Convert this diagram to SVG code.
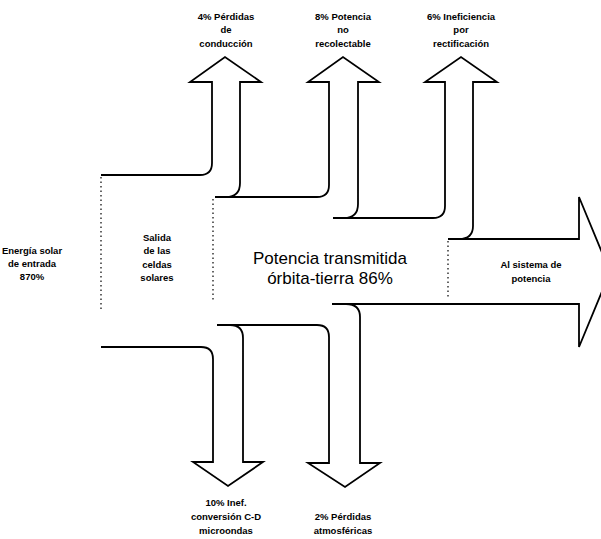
<svg xmlns="http://www.w3.org/2000/svg" width="601" height="539" viewBox="0 0 601 539">
<style>
.flow{fill:none;stroke:#000;stroke-width:1.8;stroke-linejoin:miter;stroke-linecap:butt}
.sep{fill:none;stroke:#000;stroke-width:1.2;stroke-dasharray:1.5 3}
.s{font-family:"Liberation Sans",Arial,sans-serif;font-size:9.5px;font-weight:bold;text-anchor:middle;fill:#000}
.b{font-family:"Liberation Sans",Arial,sans-serif;font-size:17px;text-anchor:middle;fill:#000}
</style>
<rect width="601" height="539" fill="#fff"/>
<g id="connectors">
<path class="flow" d="M101,175 H200 Q212,175 212,163 V82 H190 L225,57 L261,82 H240 V183 Q240,197 226,197"/>
<path class="flow" d="M215,197 H317 Q329,197 329,185 V82 H308 L343,57 L379,82 H358 V204 Q358,218 344,218"/>
<path class="flow" d="M333,218 H433 Q445,218 445,206 V82 H425 L461,57 L497,82 H473 V226 Q473,239 459,239"/>
<path class="flow" d="M448,239 H579 V197 L610,272 L579,347 V304 H332"/>
<path class="flow" d="M101,347 H201 Q213,347 213,359 V462 H193 L228,486 L263,462 H243 V338 Q243,325 230,325"/>
<path class="flow" d="M217,325 H317 Q329,325 329,337 V463 H308 L345,487 L380,463 H360 V317 Q360,304 346,304"/>
<path class="sep" d="M101,177 V312"/>
<path class="sep" d="M213,199 V302"/>
<path class="sep" d="M448,241 V298"/>
</g>
<g id="entrada">
<text class="s" x="32" y="254">Energía solar</text>
<text class="s" x="32" y="267">de entrada</text>
<text class="s" x="32" y="280">870%</text>
</g>
<g id="salida">
<text class="s" x="157" y="241">Salida</text>
<text class="s" x="157" y="254">de las</text>
<text class="s" x="157" y="268">celdas</text>
<text class="s" x="157" y="281">solares</text>
</g>
<g id="transmitida">
<text class="b" x="330" y="264">Potencia transmitida</text>
<text class="b" x="330" y="284">órbita-tierra 86%</text>
</g>
<g id="sistema">
<text class="s" x="531" y="268">Al sistema de</text>
<text class="s" x="531" y="282">potencia</text>
</g>
<g id="conduccion">
<text class="s" x="226" y="20">4% Pérdidas</text>
<text class="s" x="226" y="33">de</text>
<text class="s" x="226" y="47">conducción</text>
</g>
<g id="recolectable">
<text class="s" x="343" y="20">8% Potencia</text>
<text class="s" x="343" y="33">no</text>
<text class="s" x="343" y="47">recolectable</text>
</g>
<g id="rectificacion">
<text class="s" x="461" y="20">6% Ineficiencia</text>
<text class="s" x="461" y="33">por</text>
<text class="s" x="461" y="47">rectificación</text>
</g>
<g id="conversion">
<text class="s" x="226" y="506">10% Inef.</text>
<text class="s" x="226" y="520">conversión C-D</text>
<text class="s" x="226" y="534">microondas</text>
</g>
<g id="atmosfericas">
<text class="s" x="343" y="520">2% Pérdidas</text>
<text class="s" x="343" y="534">atmosféricas</text>
</g>
</svg>
